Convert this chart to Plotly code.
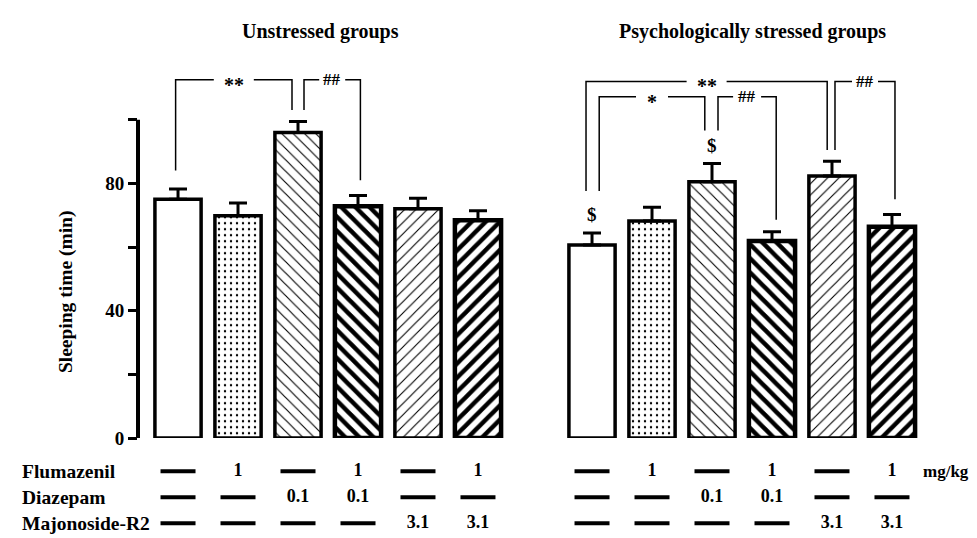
import plotly.graph_objects as go

W, H = 977, 538

# ---------------- data ----------------
panel_titles = ["Unstressed groups", "Psychologically stressed groups"]
bar_positions = [0, 1, 2, 3, 4, 5]
unstressed_mean = [75.0, 69.8, 96.0, 72.8, 72.0, 68.4]
unstressed_sem = [3.2, 4.0, 3.4, 3.4, 3.3, 3.0]
stressed_mean = [60.6, 68.2, 80.5, 61.9, 82.3, 66.4]
stressed_sem = [3.8, 4.3, 5.7, 2.9, 4.6, 3.8]
stressed_dollar = ["$", "", "$", "", "", ""]

row_labels = ["Flumazenil", "Diazepam", "Majonoside-R2"]
flumazenil = ["—", "1", "—", "1", "—", "1"]
diazepam = ["—", "—", "0.1", "0.1", "—", "—"]
majonoside = ["—", "—", "—", "—", "3.1", "3.1"]
dose_unit = "mg/kg"

y_tickvals = [0, 20, 40, 60, 80, 100]
y_ticktext = ["0", "", "40", "", "80", ""]
y_label = "Sleeping time (min)"

# significance brackets
br_panel = [0, 0, 1, 1, 1, 1]
br_from = [0, 2, 0, 0, 2, 4]
br_to = [2, 3, 4, 2, 3, 5]
br_top = [112.5, 112.5, 112.0, 107.2, 107.2, 112.0]
br_foot_from = [84.0, 103.0, 77.6, 77.6, 96.6, 90.5]
br_foot_to = [103.0, 81.0, 90.5, 96.6, 68.6, 75.0]
br_label = ["**", "##", "**", "*", "##", "##"]

# ---------------- style ----------------
FONT = "Liberation Serif"
BOLD = 700
pat_shape = ["", ".", "\\", "\\", "/", "/"]
pat_size = [8, 6, 8, 10, 8, 10]
pat_solid = [0.2, 0.12, 0.14, 0.45, 0.14, 0.45]
edge_w = [3.5, 3.5, 3.5, 4.5, 3.5, 4.5]
br_off_from = [-0.04, 0.1, -0.1, 0.12, 0.1, 0.05]
br_off_to = [-0.1, 0.04, -0.08, -0.12, 0.07, 0.05]
br_gap_px = [20, 13, 20, 16, 14, 13]   # half-width of the gap left for the label
PX_PER_UNIT = 60.0


def px_x(p):
    return p / W


def px_y(p):
    return 1 - p / H


xr = [-0.667, 5.467]
ydom = [px_y(439), px_y(39)]
yr = [0, 400 / 3.25]

fig = go.Figure()

panels = [("x", unstressed_mean, unstressed_sem), ("x2", stressed_mean, stressed_sem)]
for xa, means, sems in panels:
    fig.add_trace(go.Bar(
        x=bar_positions, y=means, xaxis=xa, yaxis="y", width=0.77,
        marker=dict(color="white",
                    line=dict(color="black", width=edge_w),
                    pattern=dict(shape=pat_shape, size=pat_size, solidity=pat_solid,
                                 fgcolor="black", bgcolor="white", fgopacity=1,
                                 fillmode="overlay")),
        error_y=dict(type="data", symmetric=False, array=sems, arrayminus=[0] * len(sems),
                     thickness=3, width=9, color="black"),
        showlegend=False, hoverinfo="skip"))

# brackets
annotations = []
for i in range(len(br_label)):
    xa = "x" if br_panel[i] == 0 else "x2"
    xa_ = br_from[i] + br_off_from[i]
    xb_ = br_to[i] + br_off_to[i]
    mid = (xa_ + xb_) / 2
    g = br_gap_px[i] / PX_PER_UNIT
    fig.add_trace(go.Scatter(
        x=[xa_, xa_, mid - g, None, mid + g, xb_, xb_],
        y=[br_foot_from[i], br_top[i], br_top[i], None, br_top[i], br_top[i], br_foot_to[i]],
        xaxis=xa, yaxis="y", mode="lines", line=dict(color="black", width=1.5),
        connectgaps=False, showlegend=False, hoverinfo="skip"))
    lab = br_label[i]
    is_star = "*" in lab
    annotations.append(dict(
        x=mid, y=br_top[i], xref=xa, yref="y", text=lab, showarrow=False,
        xanchor="center", yanchor="middle", yshift=-5 if is_star else 0,
        font=dict(family=FONT, size=20 if is_star else 17, weight=BOLD, color="black")))

# dollar marks
for i, d in enumerate(stressed_dollar):
    if d:
        annotations.append(dict(
            x=bar_positions[i], y=stressed_mean[i] + stressed_sem[i], xref="x2", yref="y",
            text=d, showarrow=False, xanchor="center", yanchor="bottom", yshift=6,
            font=dict(family=FONT, size=19, weight=BOLD, color="black")))

# y axis line (0..100)
fig.add_shape(type="line", xref="x domain", yref="y", x0=0, x1=0, y0=0, y1=100,
              line=dict(color="black", width=4))

# table of doses
rows = [flumazenil, diazepam, majonoside]
row_y = [2, 1, 0]
for xa in ["x", "x2"]:
    dx, dy, tx, ty, tt = [], [], [], [], []
    for r, vals in enumerate(rows):
        for c, v in enumerate(vals):
            if v == "—":
                dx.append(bar_positions[c]); dy.append(row_y[r])
            else:
                tx.append(bar_positions[c]); ty.append(row_y[r]); tt.append(v)
    fig.add_trace(go.Scatter(
        x=dx, y=dy, xaxis=xa, yaxis="y3", mode="markers",
        marker=dict(symbol="line-ew", size=25, line=dict(color="black", width=4)),
        showlegend=False, hoverinfo="skip"))
    fig.add_trace(go.Scatter(
        x=tx, y=ty, text=tt, xaxis=xa, yaxis="y3", mode="text",
        textfont=dict(family=FONT, size=18, weight=BOLD, color="black"),
        showlegend=False, hoverinfo="skip"))

for r, lab in enumerate(row_labels):
    annotations.append(dict(
        x=px_x(12), y=row_y[r], xref="paper", yref="y3", text=lab, showarrow=False,
        xanchor="left", yanchor="middle",
        font=dict(family=FONT, size=19.5, weight=BOLD, color="black")))
annotations.append(dict(
    x=px_x(938), y=row_y[0], xref="paper", yref="y3", text=dose_unit, showarrow=False,
    xanchor="center", yanchor="middle",
    font=dict(family=FONT, size=17, weight=BOLD, color="black")))

# titles and y label
for t, cx in zip(panel_titles, [312, 744]):
    annotations.append(dict(
        x=px_x(cx), y=px_y(24), xref="paper", yref="paper", text=t, showarrow=False,
        xanchor="center", yanchor="middle",
        font=dict(family=FONT, size=20, weight=BOLD, color="black")))
annotations.append(dict(
    x=px_x(58), y=px_y(290), xref="paper", yref="paper", text=y_label, showarrow=False,
    xanchor="center", yanchor="middle",
    textangle=-90, font=dict(family=FONT, size=19.5, weight=BOLD, color="black")))

hidden_x = dict(range=xr, showgrid=False, zeroline=False, showline=False,
                showticklabels=False, ticks="")
fig.update_layout(
    width=W, height=H, margin=dict(l=0, r=0, t=0, b=0),
    paper_bgcolor="white", plot_bgcolor="white",
    font=dict(family=FONT, size=19, color="black", weight=BOLD),
    xaxis=dict(domain=[px_x(130), px_x(498)], anchor="y", **hidden_x),
    xaxis2=dict(domain=[px_x(544), px_x(912)], anchor="y", **hidden_x),
    yaxis=dict(domain=ydom, range=yr, anchor="x", showgrid=False, zeroline=False,
               showline=False, tickvals=y_tickvals, ticktext=y_ticktext,
               ticks="outside", ticklen=9, tickwidth=3, tickcolor="black",
               tickfont=dict(family=FONT, size=19, weight=BOLD, color="black")),
    yaxis3=dict(domain=[0, px_y(450)], range=[-0.453, 2.868], anchor="x", visible=False),
    annotations=annotations,
    bargap=0.2,
)

fig.write_html("out.html")
